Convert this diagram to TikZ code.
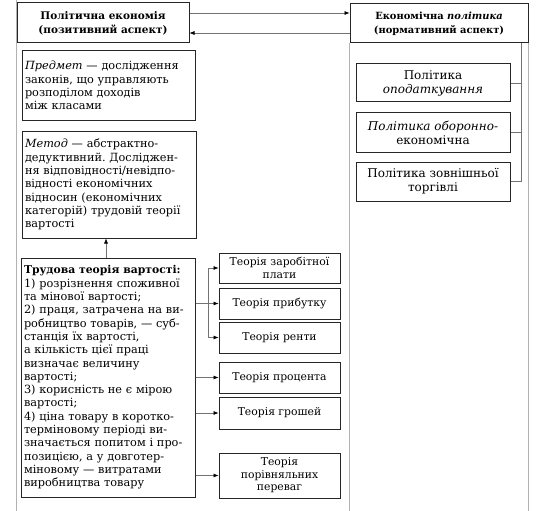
\documentclass[tikz,border=0pt]{standalone}
\usepackage{fontspec}
\setmainfont{DejaVu Serif}
\usetikzlibrary{arrows.meta}
\frenchspacing
\begin{document}
\begin{tikzpicture}[x=1pt,y=-1pt,
  box/.style={draw=black!85,line width=1pt,rectangle,inner sep=3pt,font=\fontsize{11.3}{13.3}\selectfont},
  hbox/.style={box,align=center,font=\bfseries\fontsize{10.5}{14}\selectfont},
  lbox/.style={box,align=left,inner sep=3pt},
  cbox/.style={box,align=center,font=\fontsize{10.8}{12.5}\selectfont},
  pbox/.style={box,align=center,font=\fontsize{12}{14}\selectfont},
  conn/.style={draw=black!55,line width=0.6pt},
  arr/.style={conn,-{Latex[black,length=5pt,width=4pt]}},
  frame/.style={draw=black!30,line width=0.6pt}]
\useasboundingbox (0,0) rectangle (544,511);
% column frames
\draw[frame] (16,0) -- (16,511);
% header boxes
\node[hbox,minimum width=172pt,minimum height=40pt] (lt) at (103,23) {Політична економія\\(позитивний аспект)};
\node[hbox,font=\bfseries\fontsize{9.9}{14}\selectfont,minimum width=178pt,minimum height=39pt] (rt) at (439,23.5) {Економічна \textit{політика}\\(нормативний аспект)};
\draw[frame] (rt.south west) -- (rt.south west |- 0,511);
\draw[frame] (rt.south east) -- (rt.south east |- 0,511);
% left column
\node[lbox,minimum width=173pt,minimum height=69pt,text width=167pt] (pr) at (108.5,85.5) {\textit{Предмет} — дослідження\\законів, що управляють\\розподілом доходів\\між класами};
\node[lbox,minimum width=174pt,minimum height=107pt,text width=168pt] (me) at (109,184.5) {\textit{Метод} — абстрактно-\\дедуктивний. Досліджен-\\ня відповідності/невідпо-\\відності економічних\\відносин (економічних\\категорій) трудовій теорії\\вартості};
\node[lbox,minimum width=174pt,minimum height=239pt,text width=168pt] (tr) at (108,377.5) {{\bfseries\fontsize{10.8}{13.3}\selectfont Трудова теорія вартості:}\\1) розрізнення споживної\\та мінової вартості;\\2) праця, затрачена на ви-\\робництво товарів, — суб-\\станція їх вартості,\\а кількість цієї праці\\визначає величину\\вартості;\\3) корисність не є мірою\\вартості;\\4) ціна товару в коротко-\\терміновому періоді ви-\\значається попитом і про-\\позицією, а у довготер-\\міновому — витратами\\виробництва товару};
% theories
\node[cbox,minimum width=121pt,minimum height=30pt] (b1) at (279.5,268) {Теорія заробітної\\плати};
\node[cbox,minimum width=121pt,minimum height=31pt] (b2) at (279.5,303.5) {Теорія прибутку};
\node[cbox,minimum width=121pt,minimum height=31pt] (b3) at (279.5,337.5) {Теорія ренти};
\node[cbox,minimum width=121pt,minimum height=31pt] (b4) at (279.5,377.5) {Теорія процента};
\node[cbox,minimum width=121pt,minimum height=32pt] (b5) at (279.5,413) {Теорія грошей};
\node[cbox,minimum width=121pt,minimum height=45pt] (b6) at (279.5,475.5) {Теорія\\порівняльних\\переваг};
% policies
\node[pbox,minimum width=154pt,minimum height=38pt] (pa) at (433,83) {Політика\\\textit{оподаткування}};
\node[pbox,minimum width=154pt,minimum height=39pt] (pb) at (433,132.5) {\textit{Політика оборонно-}\\економічна};
\node[pbox,minimum width=154pt,minimum height=39pt] (pc) at (433,181.5) {Політика зовнішньої\\торгівлі};
% header connectors
\draw[arr] ([yshift=10pt]lt.east) -- ([yshift=10pt]lt.east -| rt.west);
\draw[arr] ([yshift=-10pt]lt.east -| rt.west) -- ([yshift=-10pt]lt.east);
% up arrow
\draw[arr] (tr.north -| 106,0) -- (me.south -| 106,0);
% bracket to theories
\coordinate (jx) at (208,0);
\draw[conn] (jx |- b1.west) -- (jx |- b3.west);
\draw[conn] (tr.east |- b2.west) -- (jx |- b2.west);
\draw[arr] (jx |- b1.west) -- (b1.west);
\draw[arr] (jx |- b2.west) -- (b2.west);
\draw[arr] (jx |- b3.west) -- (b3.west);
\draw[arr] (tr.east |- b4.west) -- (b4.west);
\draw[arr] (tr.east |- b5.west) -- (b5.west);
\draw[arr] (tr.east |- b6.west) -- (b6.west);
% right bracket
\coordinate (rx) at (521,0);
\draw[conn] (rx |- rt.south) -- (rx |- pc.east);
\draw[conn] (rx |- pa.east) -- (pa.east);
\draw[conn] (rx |- pb.east) -- (pb.east);
\draw[conn] (rx |- pc.east) -- (pc.east);
\end{tikzpicture}
\end{document}
